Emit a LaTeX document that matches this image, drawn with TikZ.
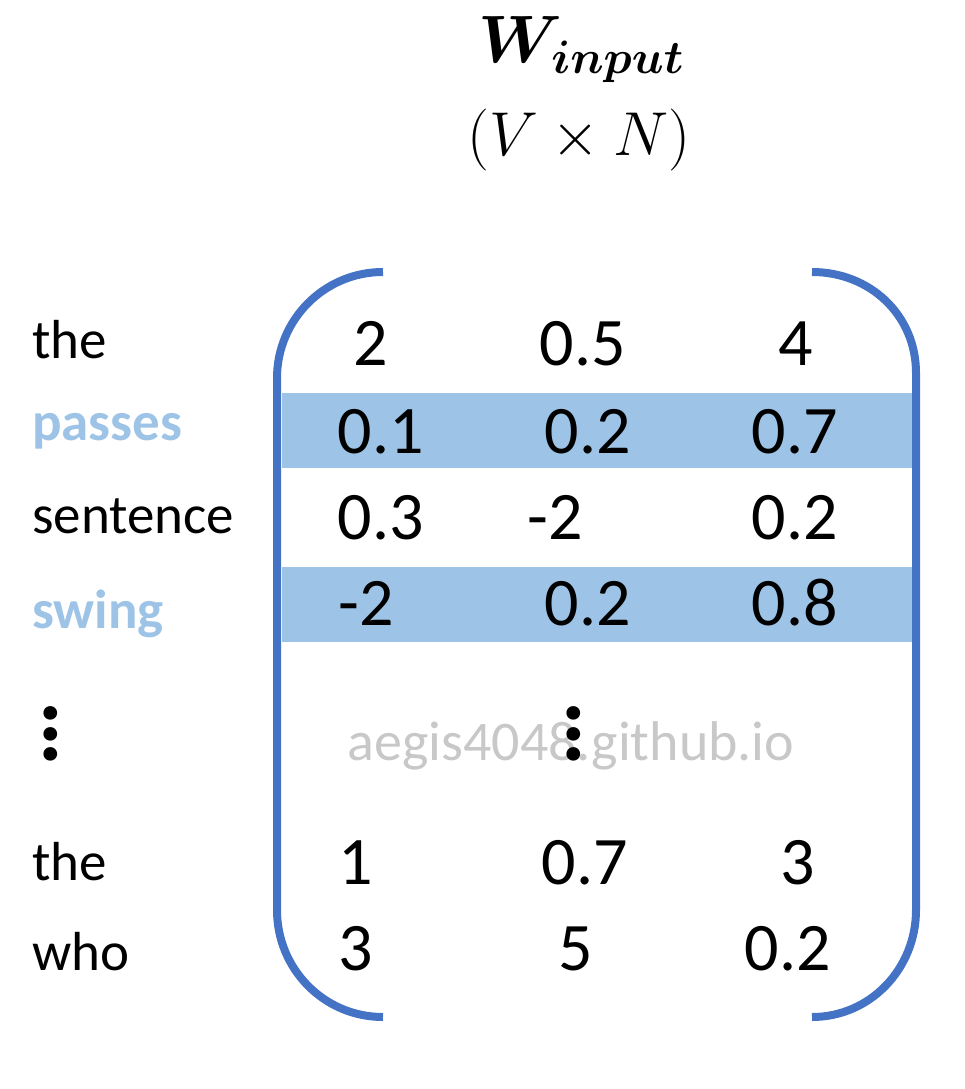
\RequirePackage{fix-cm}
\documentclass[tikz,border=0pt]{standalone}
\usepackage{fontspec}
\setmainfont{Carlito}
\usepackage{bm}
\definecolor{bracketblue}{HTML}{4472C4}
\definecolor{rowblue}{HTML}{9DC3E6}
\definecolor{markgray}{HTML}{C8C8C8}
\begin{document}
\begin{tikzpicture}[x=1pt,y=-1pt,
	word/.style={anchor=base west,inner sep=0pt,font=\fontsize{55}{66}\selectfont},
	hiword/.style={word,text=rowblue,font=\fontsize{55}{66}\selectfont\bfseries},
	num/.style={anchor=base,inner sep=0pt,font=\fontsize{68}{80}\selectfont},
	vdotsbox/.style={inner sep=0pt,align=center,font=\fontsize{92}{20.5}\selectfont\bfseries},
	watermark/.style={anchor=base,inner sep=0pt,text=markgray,font=\fontsize{56}{66}\selectfont},
	bracket/.style={draw=bracketblue,line width=8pt}]
\useasboundingbox (0,0) rectangle (964,1089);
\node (wname) [anchor=base,inner sep=0pt,font=\fontsize{67}{80}\selectfont] at (581,63) {$\bm{W}_{\bm{input}}$};
\node (wdims) [anchor=base,inner sep=0pt,font=\fontsize{62}{74}\selectfont] at (579,155) {$(V\times N)$};
\fill[rowblue] (282,393) rectangle (912,468);
\fill[rowblue] (282,567) rectangle (912,642);
\node (mark) [watermark] at (571,760) {aegis4048.github.io};
\path[bracket] (383,272) .. controls (324,272) and (277,320) .. (277,378)
	-- (277,910) .. controls (277,969) and (324,1017) .. (383,1017);
\path[bracket] (812,272) .. controls (870,272) and (916,315) .. (916,373)
	-- (916,910) .. controls (916,969) and (870,1017) .. (812,1017);
\node (the) [word] at (32,358) {the};
\node (passes) [hiword] at (32,440) {passes};
\node (sentence) [word] at (32,533) {sentence};
\node (swing) [hiword] at (32,628) {swing};
\node (ldots) [vdotsbox] at (51,734) {.\\.\\.};
\node (the2) [word] at (32,880) {the};
\node (who) [word] at (32,970) {who};
\node (a11) [num] at (371,365) {2};
\node (a12) [num] at (583,365) {0.5};
\node (a13) [num] at (796,365) {4};
\node (a21) [num] at (381,453) {0.1};
\node (a22) [num] at (588,453) {0.2};
\node (a23) [num] at (795,453) {0.7};
\node (a31) [num] at (381,539) {0.3};
\node (a32) [num] at (555,539) {-2};
\node (a33) [num] at (795,539) {0.2};
\node (a41) [num] at (366,625) {-2};
\node (a42) [num] at (588,625) {0.2};
\node (a43) [num] at (795,625) {0.8};
\node (mdots) [vdotsbox] at (574,734) {.\\.\\.};
\node (a51) [num] at (356,884) {1};
\node (a52) [num] at (585,884) {0.7};
\node (a53) [num] at (798,884) {3};
\node (a61) [num] at (356,970) {3};
\node (a62) [num] at (576,970) {5};
\node (a63) [num] at (788,970) {0.2};
\end{tikzpicture}
\end{document}
